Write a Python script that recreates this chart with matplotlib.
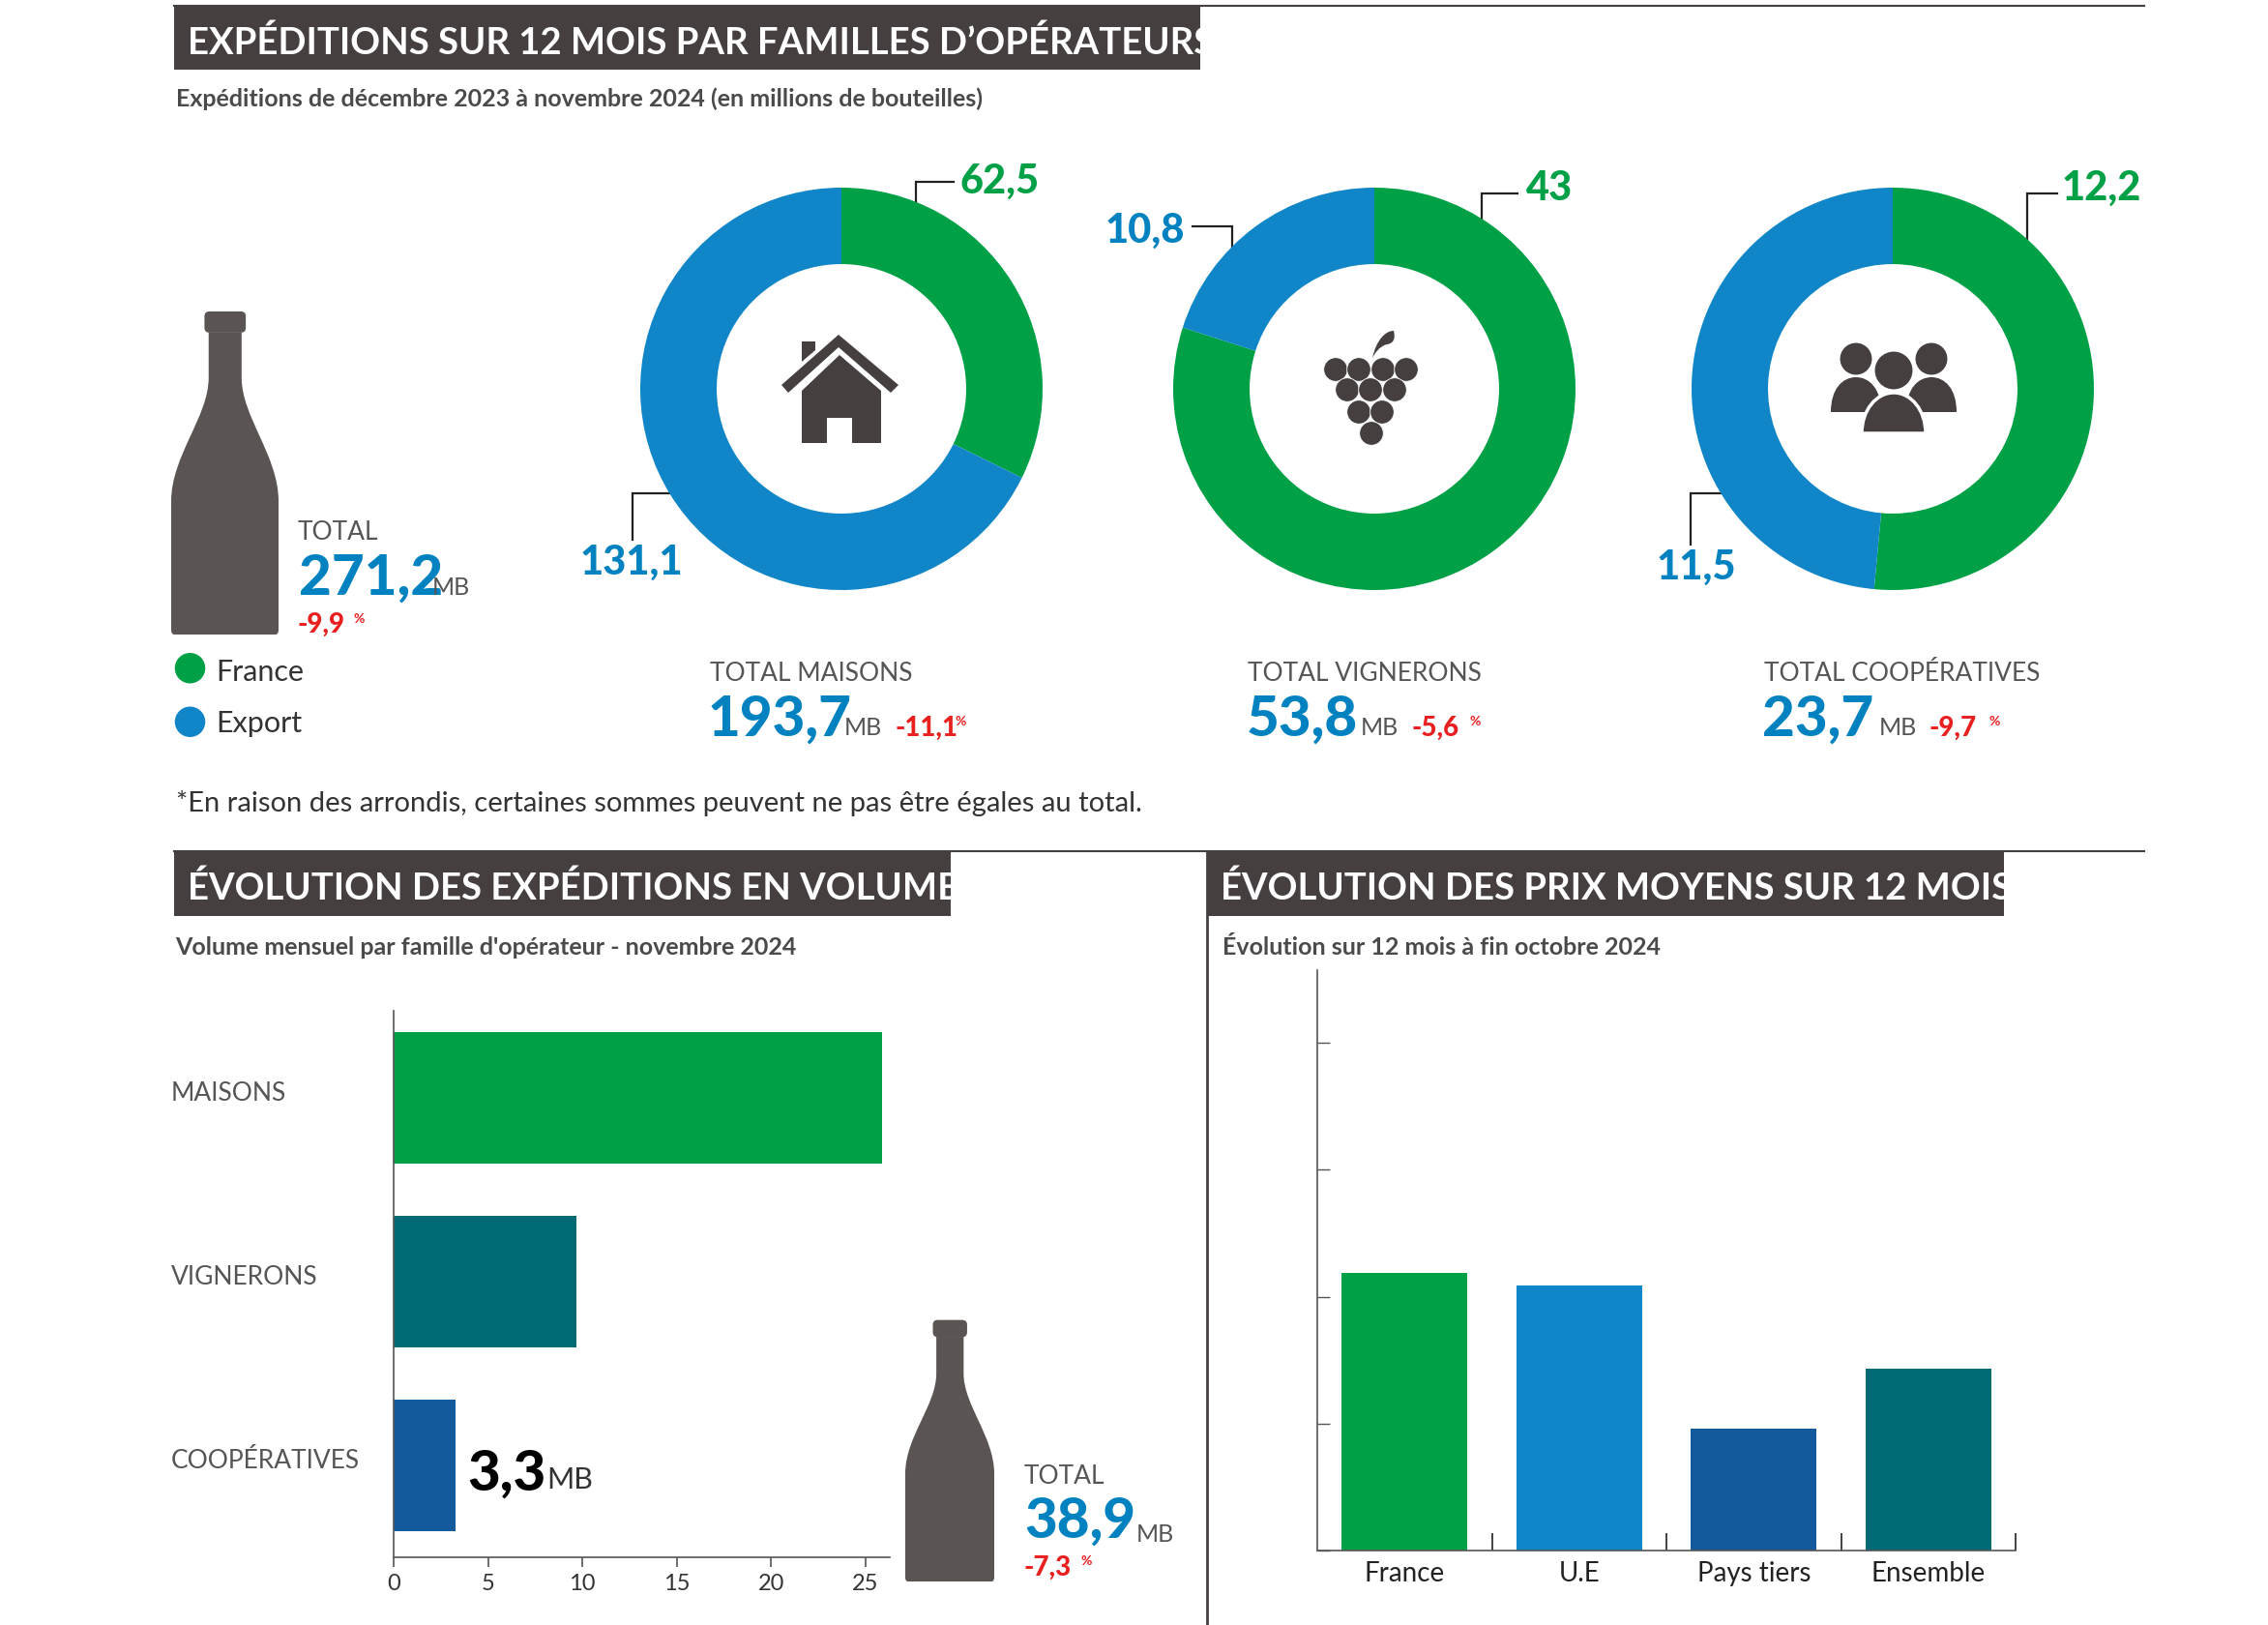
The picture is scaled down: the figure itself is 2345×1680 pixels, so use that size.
import matplotlib
matplotlib.use('Agg')
import matplotlib.pyplot as plt
from matplotlib.patches import Circle, PathPatch, Polygon, Rectangle, Ellipse, FancyBboxPatch
from matplotlib.path import Path

plt.rcParams['font.family'] = ['Lato', 'DejaVu Sans']

# -----------------------------------------------------------------------------
# data
# -----------------------------------------------------------------------------
donut_france = [62.5, 43, 12.2]
donut_export = [131.1, 10.8, 11.5]

volume_families = ['MAISONS', 'VIGNERONS', 'COOPÉRATIVES']
volume_values = [25.9, 9.7, 3.3]
volume_ticks = [0, 5, 10, 15, 20, 25]

price_categories = ['France', 'U.E', 'Pays tiers', 'Ensemble']
price_labels = ['+5,7', '+5,3', '+1,5', '+3,2']
# bars in the picture are not proportional to their labels: heights are read
# against the unlabelled ticks of the axis
price_heights = [2.19, 2.09, 0.96, 1.43]
price_ticks = [0, 1, 2, 3, 4]

GREEN = '#00A046'
BLUE = '#1085C8'
NUM_BLUE = '#0082C0'
TEAL = '#006B75'
NAVY = '#125A9C'
RED = '#E8201F'
DARK = '#45403F'
BOTTLE = '#5A5453'
GREY = '#555555'

W, H = 2345, 1680
S = 1.5  # text positions below were read on a 2/3 scale view

fig = plt.figure(figsize=(W / 100, H / 100), dpi=100, facecolor='white')


def axes_px(x0, y0, x1, y1, **kw):
    """Axes from a box in image pixels (y going down)."""
    return fig.add_axes([x0 / W, 1 - y1 / H, (x1 - x0) / W, (y1 - y0) / H], **kw)


bg = axes_px(0, 0, W, H)
bg.set_xlim(0, W)
bg.set_ylim(H, 0)
bg.axis('off')


def txt(x, y, s, size, color=GREY, weight='normal', **kw):
    return bg.text(x * S, y * S, s, fontsize=size, color=color, fontweight=weight,
                   va='baseline', ha=kw.pop('ha', 'left'), zorder=10, **kw)


def header(x0, x1, y0, s, size=27.5):
    bg.add_patch(Rectangle((x0 * S, y0 * S), (x1 - x0) * S, 44 * S, fc=DARK, ec='none'))
    txt(x0 + 9, y0 + 33, s, size, 'white', 'bold')


def bottle(x0, y0, x1, y1):
    w, h = x1 - x0, y1 - y0
    pts = [(.349, .07), (.349, .21), (.349, .33), (0, .45), (0, .59), (0, .985), (0, 1),
           (.03, 1), (.97, 1), (1, 1), (1, .985), (1, .59), (1, .45), (.656, .33),
           (.656, .21), (.656, .07), (.349, .07)]
    codes = [Path.MOVETO, Path.LINETO, Path.CURVE4, Path.CURVE4, Path.CURVE4, Path.LINETO,
             Path.CURVE3, Path.CURVE3, Path.LINETO, Path.CURVE3, Path.CURVE3, Path.LINETO,
             Path.CURVE4, Path.CURVE4, Path.CURVE4, Path.LINETO, Path.CLOSEPOLY]
    verts = [(x0 + a * w, y0 + b * h) for a, b in pts]
    bg.add_patch(PathPatch(Path(verts, codes), fc=BOTTLE, ec='none', zorder=3))
    bg.add_patch(FancyBboxPatch((x0 + .31 * w, y0 + .006 * h), .385 * w, .065 * h,
                                boxstyle='round,pad=0,rounding_size=5', fc=BOTTLE, ec='none', zorder=3))


def house():
    bg.add_patch(Polygon([(867, 346), (929, 398), (921, 406), (867, 359), (815, 406), (808, 398)],
                         fc=DARK, ec='none', zorder=5))
    bg.add_patch(Polygon([(829, 353), (843, 353), (843, 362), (829, 374)], fc=DARK, ec='none', zorder=5))
    bg.add_patch(Polygon([(868, 367), (911, 404), (911, 458), (881, 458), (881, 432), (855, 432),
                          (855, 458), (829, 458), (829, 404)], fc=DARK, ec='none', zorder=5))


def grapes():
    rows = [(382, [1381, 1405, 1430, 1454]), (403, [1393, 1417, 1442]), (426, [1405, 1429]), (448, [1418])]
    for yy, xs in rows:
        for xx in xs:
            bg.add_patch(Circle((xx, yy), 12.3, fc=DARK, ec='white', lw=0.6, zorder=5))
    verts = [(1419, 370), (1423, 352), (1432, 342), (1441, 342), (1443, 350), (1441, 355), (1434, 356), (1426, 358), (1421, 366), (1419, 370)]
    codes = [Path.MOVETO] + [Path.CURVE4] * 9
    bg.add_patch(PathPatch(Path(verts, codes), fc=DARK, ec='none', zorder=5))


def people():
    for cx, side in ((1919, -1), (1997, 1)):
        verts = [(cx - 26, 426), (cx - 26, 402), (cx - 14, 390), (cx, 390),
                 (cx + 14, 390), (cx + 26, 402), (cx + 26, 426), (cx - 26, 426)]
        codes = [Path.MOVETO] + [Path.CURVE4] * 6 + [Path.CLOSEPOLY]
        bg.add_patch(PathPatch(Path(verts, codes), fc=DARK, ec='none', zorder=5))
        bg.add_patch(Circle((cx, 371), 17.5, fc=DARK, ec='white', lw=1.5, zorder=6))
    verts = [(1925, 448), (1925, 424), (1940, 406), (1958, 406),
             (1976, 406), (1991, 424), (1991, 448), (1925, 448)]
    codes = [Path.MOVETO] + [Path.CURVE4] * 6 + [Path.CLOSEPOLY]
    bg.add_patch(PathPatch(Path(verts, codes), fc=DARK, ec='white', lw=2.5, zorder=7))
    bg.add_patch(Rectangle((1920, 447), 76, 4, fc='white', ec='none', zorder=7))
    bg.add_patch(Circle((1958, 383), 20.5, fc=DARK, ec='white', lw=1.5, zorder=8))


def leader(pts):
    xs = [p[0] * S for p in pts]
    ys = [p[1] * S for p in pts]
    bg.plot(xs, ys, color='#222222', lw=1.6, solid_joinstyle='miter', zorder=2)


# -----------------------------------------------------------------------------
# rules and headers
# -----------------------------------------------------------------------------
bg.plot([180, 2217], [6, 6], color=DARK, lw=1.5)
bg.plot([180, 2217], [880, 880], color=DARK, lw=1.5)
bg.plot([1248, 1248], [880, 1684], color=DARK, lw=2)

header(120, 827, 4, 'EXPÉDITIONS SUR 12 MOIS PAR FAMILLES D’OPÉRATEURS')
header(120, 655, 587, 'ÉVOLUTION DES EXPÉDITIONS EN VOLUME')
header(832, 1381, 587, 'ÉVOLUTION DES PRIX MOYENS SUR 12 MOIS')

txt(121, 73, 'Expéditions de décembre 2023 à novembre 2024 (en millions de bouteilles)', 18, '#4A4A4A', 'bold')
txt(121, 658, "Volume mensuel par famille d'opérateur - novembre 2024", 18, '#4A4A4A', 'bold')
txt(843, 658, 'Évolution sur 12 mois à fin octobre 2024', 18, '#4A4A4A', 'bold')

# -----------------------------------------------------------------------------
# donuts
# -----------------------------------------------------------------------------
centers = [870, 1421, 1957]
for cx, fr, ex in zip(centers, donut_france, donut_export):
    ax = axes_px(cx - 208, 402 - 208, cx + 208, 402 + 208)
    ax.pie([fr, ex], colors=[GREEN, BLUE], startangle=90, counterclock=False, radius=1.0,
           wedgeprops={'width': 0.38, 'edgecolor': 'none'})
    ax.set_xlim(-1, 1)
    ax.set_ylim(-1, 1)

house()
grapes()
people()

leader([(631, 140), (631, 125), (657, 125)])
leader([(462, 340), (436, 340), (436, 372)])
leader([(1021, 151), (1021, 133), (1046, 133)])
leader([(849, 172), (849, 156), (822, 156)])
leader([(1397, 166), (1397, 133), (1418, 133)])
leader([(1186, 340), (1165, 340), (1165, 375)])

LBL = 30
for x, y, v, c in [(662, 133, donut_france[0], GREEN), (400, 396, donut_export[0], NUM_BLUE),
                   (1052, 138, donut_france[1], GREEN), (762, 167, donut_export[1], NUM_BLUE),
                   (1421, 138, donut_france[2], GREEN), (1142, 399, donut_export[2], NUM_BLUE)]:
    txt(x, y, f'{v:g}'.replace('.', ','), LBL, c, 'black')

# left total + legend
bottle(177, 320, 288, 656)
txt(205, 372, 'TOTAL', 19, GREY)
txt(206, 410, '271,2', 42, NUM_BLUE, 'black')
txt(298, 410, 'MB', 18, GREY)
txt(205, 436, '-9,9', 20, RED, 'black')
txt(244, 429, '%', 10, RED, 'bold')
bg.add_patch(Circle((131 * S, 460.5 * S), 10.5 * S, fc=GREEN, ec='none'))
bg.add_patch(Circle((131 * S, 497.5 * S), 10.5 * S, fc=BLUE, ec='none'))
txt(149, 469, 'France', 22, '#333333')
txt(149, 505, 'Export', 22, '#333333')

# totals below donuts
for x, title, val, xmb, pct, xpct, xsign in [
        (489, 'TOTAL MAISONS', '193,7', 582, '-11,1', 617, 658),
        (860, 'TOTAL VIGNERONS', '53,8', 938, '-5,6', 973, 1013),
        (1216, 'TOTAL COOPÉRATIVES', '23,7', 1295, '-9,7', 1330, 1371)]:
    txt(x, 469, title, 19, GREY)
    txt(x - 1, 507, val, 42, NUM_BLUE, 'black')
    txt(xmb, 507, 'MB', 18, GREY)
    txt(xpct, 507, pct, 20, RED, 'black')
    txt(xsign, 500, '%', 10, RED, 'bold')

txt(121, 559, '*En raison des arrondis, certaines sommes peuvent ne pas être égales au total.', 21, '#333333')

# -----------------------------------------------------------------------------
# volume bars
# -----------------------------------------------------------------------------
ax = axes_px(407, 1045, 920, 1610)
ax.patch.set_alpha(0)
ax.barh(range(3), volume_values, height=0.715, color=[GREEN, TEAL, NAVY])
ax.set_xlim(0, 26.3)
ax.set_ylim(2.498, -0.474)
ax.set_yticks([])
ax.set_xticks(volume_ticks)
ax.tick_params(axis='x', labelsize=17, color=GREY, labelcolor='#333333', length=7, width=1.2, pad=5)
for side in ('top', 'right'):
    ax.spines[side].set_visible(False)
for side in ('left', 'bottom'):
    ax.spines[side].set_color(GREY)
    ax.spines[side].set_linewidth(1.2)

for name, y in zip(volume_families, (759, 885, 1012)):
    txt(118, y, name, 19, GREY)

txt(377, 774, f'{volume_values[0]:g}'.replace('.', ','), 42, 'white', 'black')
txt(457, 774, 'MB', 22, 'white')
txt(292, 901, f'{volume_values[1]:g}'.replace('.', ','), 42, 'white', 'black')
txt(349, 900, 'MB', 22, 'white')
txt(322, 1027, f'{volume_values[2]:g}'.replace('.', ','), 42, 'black', 'black')
txt(377, 1026, 'MB', 22, '#333333')

bottle(936, 1363, 1028, 1635)
txt(706, 1023, 'TOTAL', 19, GREY)
txt(706, 1060, '38,9', 42, NUM_BLUE, 'black')
txt(783, 1063, 'MB', 18, GREY)
txt(706, 1086, '-7,3', 20, RED, 'black')
txt(745, 1079, '%', 10, RED, 'bold')

# -----------------------------------------------------------------------------
# price bars
# -----------------------------------------------------------------------------
ax = axes_px(1362, 1003, 2084, 1603)
ax.patch.set_alpha(0)
xpos = range(len(price_categories))
ax.bar(xpos, price_heights, width=0.72, color=[GREEN, BLUE, NAVY, TEAL])
ax.set_xlim(-0.5, 3.5)
ax.set_ylim(0, 600 / 131.25)
ax.set_yticks(price_ticks)
ax.set_yticklabels([])
ax.tick_params(axis='y', direction='in', length=9, color=GREY, width=1)
ax.set_xticks([0.5, 1.5, 2.5, 3.5])
ax.set_xticklabels([])
ax.tick_params(axis='x', direction='in', length=13, color='#222222', width=1.2)
ax.set_xticks(list(xpos), minor=True)
ax.set_xticklabels(price_categories, minor=True, fontsize=20, color='#222222')
ax.tick_params(axis='x', which='minor', length=0, pad=8)
for side in ('top', 'right'):
    ax.spines[side].set_visible(False)
for side in ('left', 'bottom'):
    ax.spines[side].set_color(GREY)
    ax.spines[side].set_linewidth(1.2)

for x, lab in zip([942, 1062, 1183, 1301], price_labels):
    txt(x, 1026, lab, 20, 'white')
    txt(x + 44, 1019, '%', 10, 'white')

fig.savefig('out.png', dpi=100)
